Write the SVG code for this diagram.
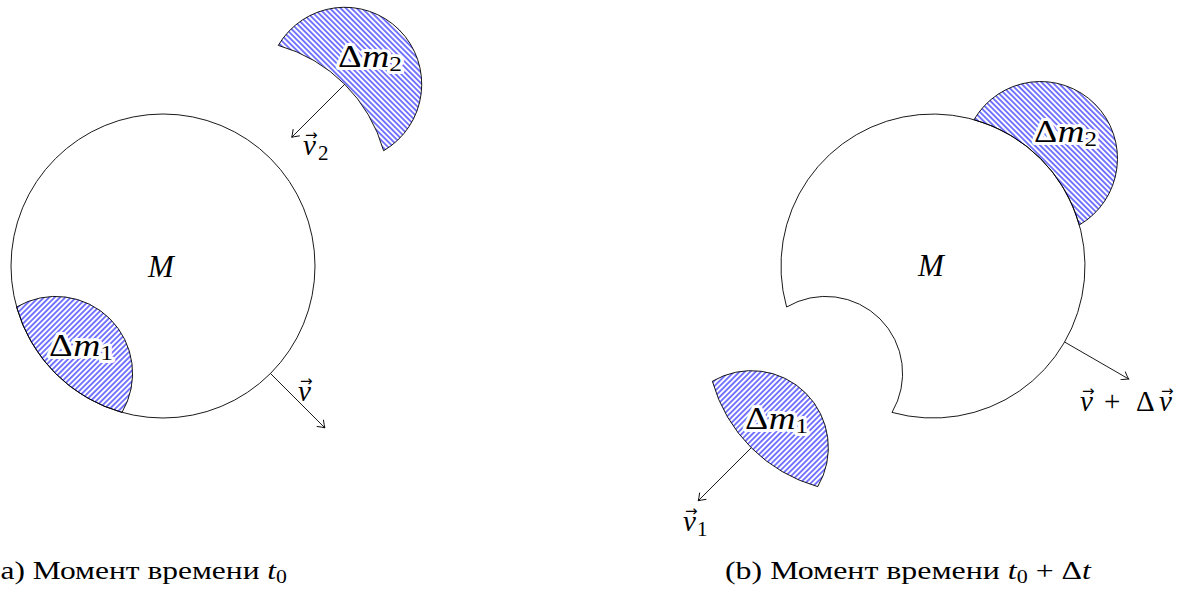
<svg xmlns="http://www.w3.org/2000/svg" xmlns:xlink="http://www.w3.org/1999/xlink" width="1181" height="603" viewBox="0 0 1181 603">
<style>
.body{fill:#fff;stroke:#000;stroke-width:0.9}
.hatchNE{fill:url(#ne);stroke:#000;stroke-width:0.9}
.hatchNW{fill:url(#nw);stroke:#000;stroke-width:0.9}
.conn{fill:none;stroke:#000;stroke-width:0.9;marker-end:url(#to)}
.lbl{font-family:"Liberation Serif","DejaVu Serif",serif;font-size:31px;fill:#000}
.halo{stroke:#fff;stroke-width:6;stroke-linejoin:round;paint-order:stroke}
.it{font-style:italic}
.sub{font-size:21px}
.vec{font-family:"Liberation Serif","DejaVu Serif",serif;font-size:29px;fill:#000}
.vsub{font-family:"Liberation Serif","DejaVu Serif",serif;font-size:21px;fill:#000}
.arr{font-family:"DejaVu Sans",sans-serif;font-size:15px;fill:#000}
.cap{font-family:"Liberation Serif","DejaVu Serif",serif;font-size:26px;fill:#000}
.csub{font-size:18px}
</style>
<defs>
<pattern id="ne" patternUnits="userSpaceOnUse" width="3.8" height="10" patternTransform="rotate(45)">
<line x1="1.9" y1="-1" x2="1.9" y2="11" stroke="#0000ff" stroke-width="1.05"/>
</pattern>
<pattern id="nw" patternUnits="userSpaceOnUse" width="3.8" height="10" patternTransform="rotate(-45)">
<line x1="1.9" y1="-1" x2="1.9" y2="11" stroke="#0000ff" stroke-width="1.05"/>
</pattern>
<marker id="to" markerUnits="userSpaceOnUse" markerWidth="14" markerHeight="14" refX="0" refY="0" viewBox="-10 -7 14 14" orient="auto" overflow="visible">
<path d="M -6.5,-4.5 Q -2,-1 0,0 Q -2,1 -6.5,4.5" fill="none" stroke="#000" stroke-width="0.9" stroke-linecap="round"/>
</marker>
<path id="lens" d="M 16.6 307 A 77 77 0 0 1 122 412.4 A 152 152 0 0 1 16.6 307 Z"/>
<path id="crescent" d="M 974.02 119.64 A 77 77 0 1 1 1079.36 224.98 A 152 152 0 0 0 974.02 119.64 Z"/>
</defs>

<!-- Left figure -->
<g id="left-M">
<circle class="body" cx="163" cy="266" r="152"/>
<text class="lbl it" x="161" y="277" text-anchor="middle">M</text>
</g>
<g id="left-dm1">
<use xlink:href="#lens" href="#lens" class="hatchNE"/>
<text class="lbl halo" x="49" y="356" textLength="64" lengthAdjust="spacingAndGlyphs">Δ<tspan class="it">m</tspan><tspan class="sub" dy="4">1</tspan></text>
</g>
<g id="left-dm2">
<use xlink:href="#crescent" href="#crescent" class="hatchNW" transform="translate(-695.75,-74.25)"/>
<text class="lbl halo" x="338" y="67" textLength="64" lengthAdjust="spacingAndGlyphs">Δ<tspan class="it">m</tspan><tspan class="sub" dy="4">2</tspan></text>
</g>

<!-- Right figure -->
<g id="right-M">
<path class="body" d="M 786.6 307 A 152 152 0 1 1 892 412.4 A 77 77 0 0 0 786.6 307 Z"/>
<text class="lbl it" x="931" y="276" text-anchor="middle">M</text>
</g>
<g id="right-dm2">
<use xlink:href="#crescent" href="#crescent" class="hatchNW"/>
<text class="lbl halo" x="1034" y="142" textLength="63" lengthAdjust="spacingAndGlyphs">Δ<tspan class="it">m</tspan><tspan class="sub" dy="4">2</tspan></text>
</g>
<g id="right-dm1">
<use xlink:href="#lens" href="#lens" class="hatchNE" transform="translate(695.75,74.25)"/>
<text class="lbl halo" x="745" y="429" textLength="63" lengthAdjust="spacingAndGlyphs">Δ<tspan class="it">m</tspan><tspan class="sub" dy="4">1</tspan></text>
</g>

<!-- Connectors (velocity arrows) -->
<g id="connectors">
<line class="conn" x1="270.48" y1="373.48" x2="324.9" y2="427.9"/>
<line class="conn" x1="344.73" y1="84.27" x2="291.7" y2="137.3"/>
<line class="conn" x1="1064.6" y1="342" x2="1128.7" y2="379"/>
<line class="conn" x1="751.27" y1="447.73" x2="698.2" y2="500.8"/>
</g>

<!-- Arrow labels -->
<g id="labels">
<text class="vec it" x="298" y="401">v</text>
<text class="arr" x="300" y="386">→</text>

<text class="vec it" x="303" y="155">v</text>
<text class="arr" x="305" y="140">→</text>
<text class="vsub" x="318" y="160">2</text>

<text class="vec it" x="1080" y="411">v</text>
<text class="arr" x="1082" y="396">→</text>
<text class="vec" x="1104" y="411">+</text>
<text class="vec" x="1136" y="411">Δ</text>
<text class="vec it" x="1159" y="411">v</text>
<text class="arr" x="1161" y="396">→</text>

<text class="vec it" x="683" y="531">v</text>
<text class="arr" x="685" y="516">→</text>
<text class="vsub" x="697" y="536">1</text>
</g>

<!-- Captions -->
<g id="captions">
<text class="cap" x="-10" y="579" textLength="297" lengthAdjust="spacingAndGlyphs">(a) Момент времени <tspan class="it">t</tspan><tspan class="csub" dy="4">0</tspan></text>
<text class="cap" x="725" y="579" textLength="366" lengthAdjust="spacingAndGlyphs">(b) Момент времени <tspan class="it">t</tspan><tspan class="csub" dy="4">0</tspan><tspan dy="-4"> + Δ</tspan><tspan class="it">t</tspan></text>
</g>
</svg>
